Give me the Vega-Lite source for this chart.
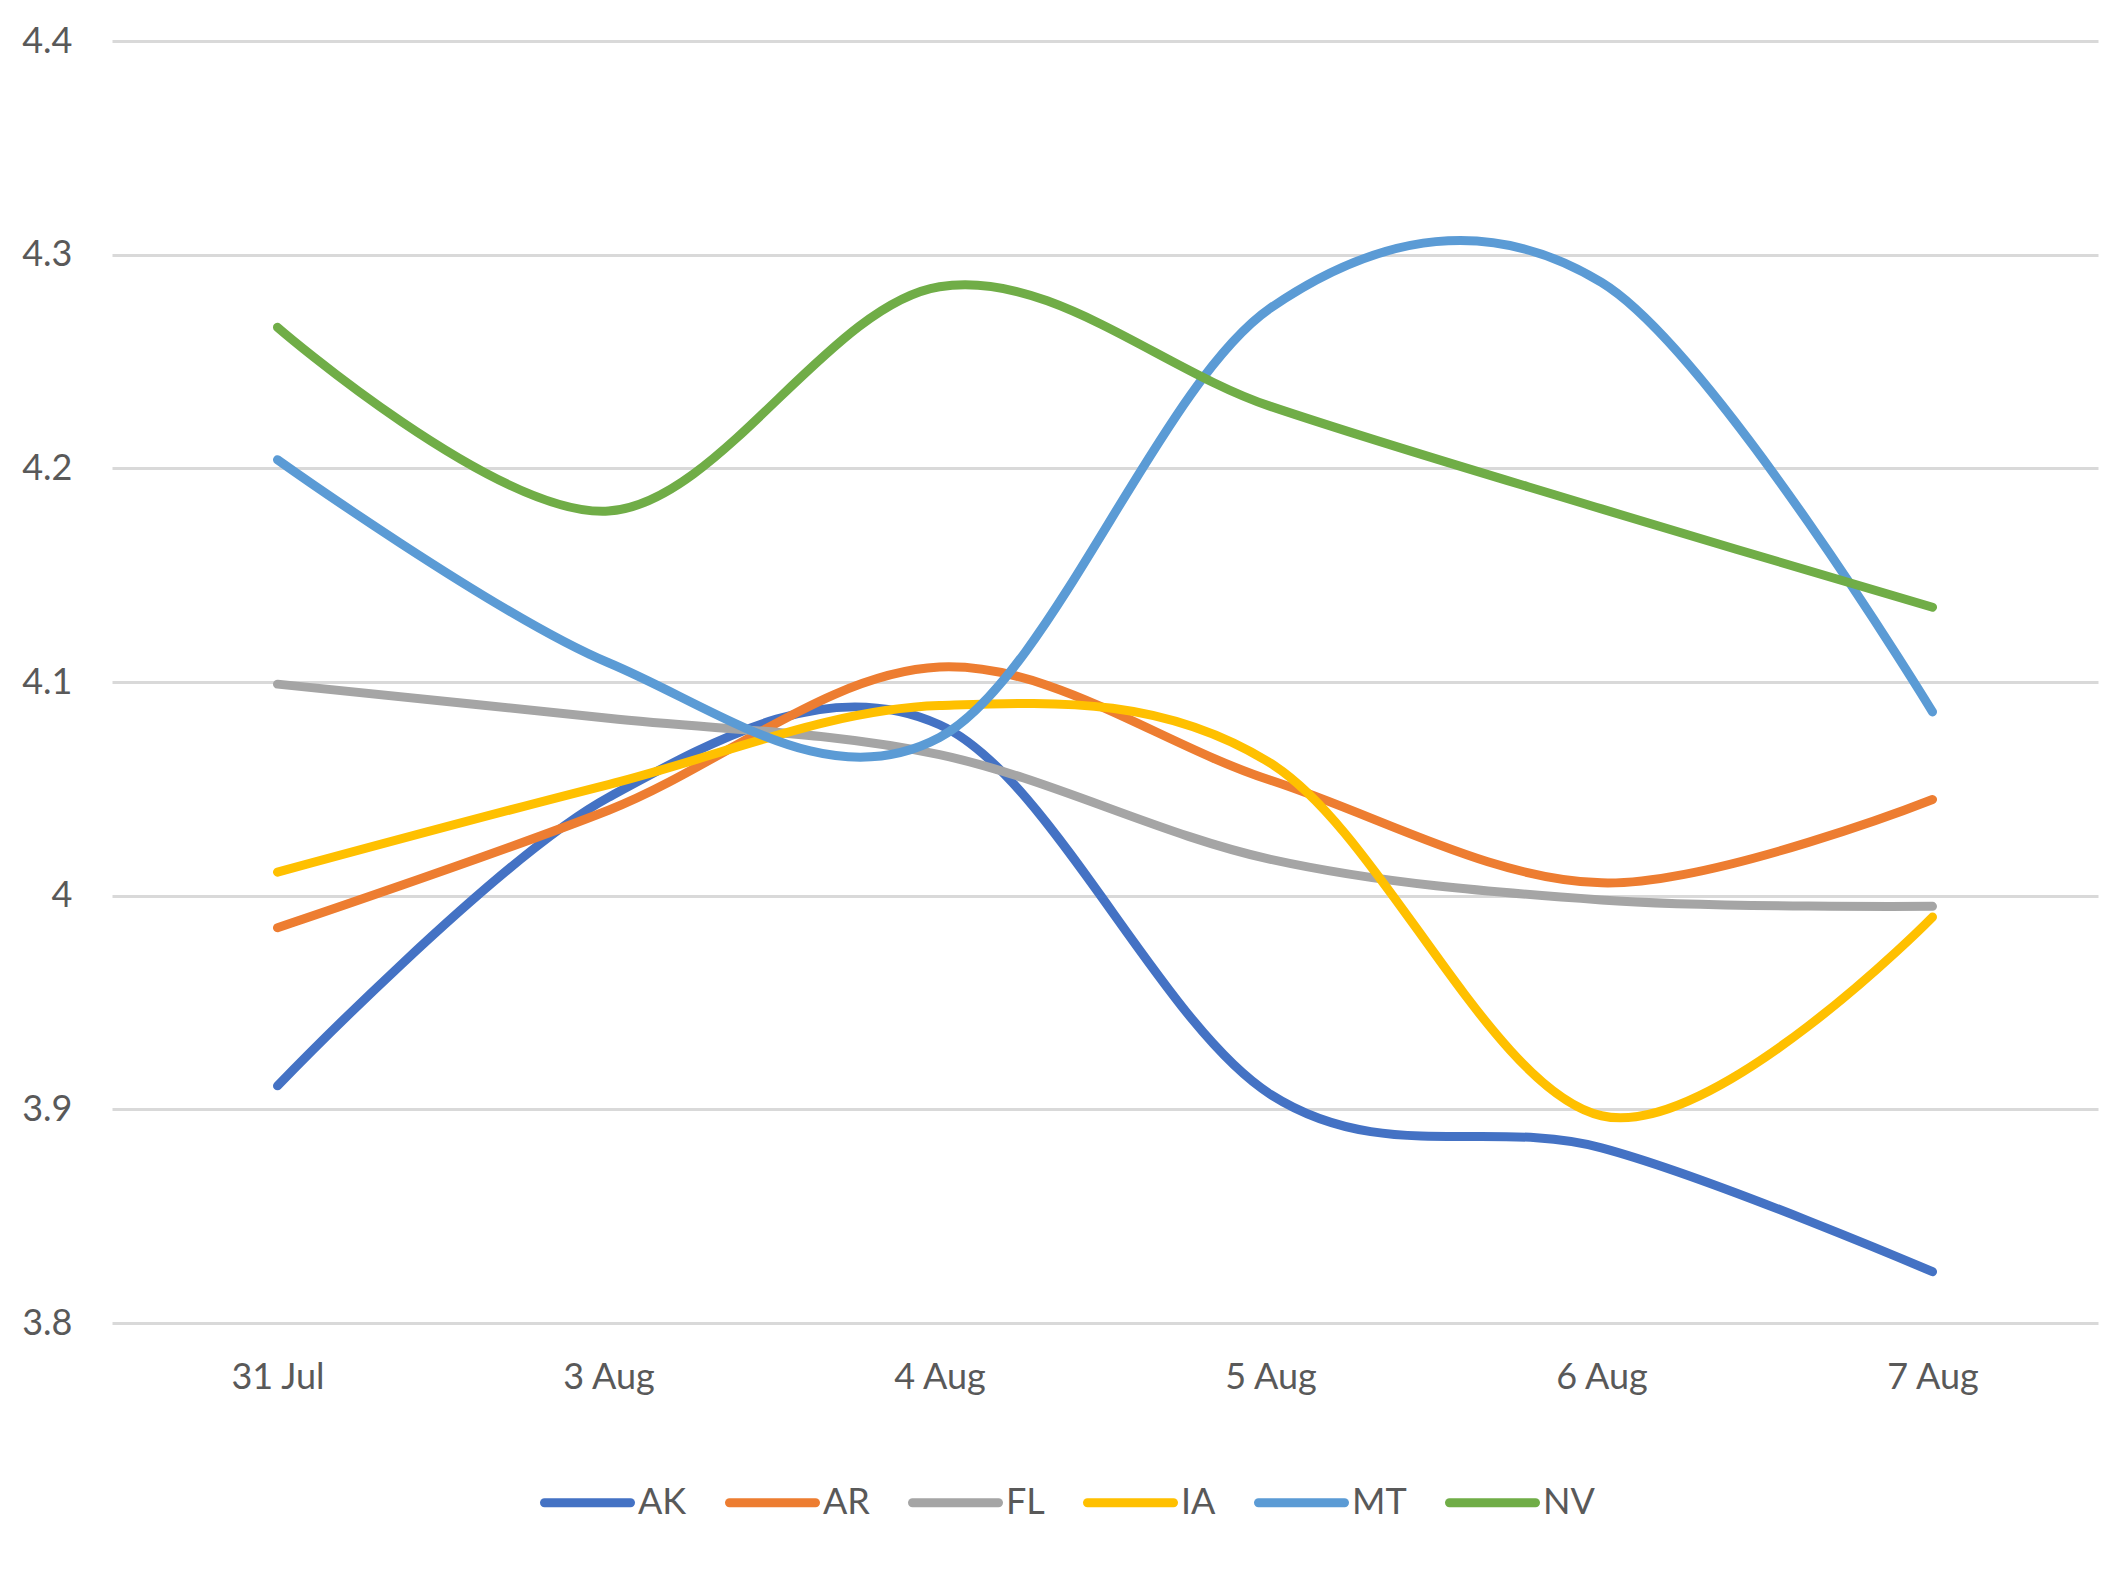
{
  "$schema": "https://vega.github.io/schema/vega-lite/v6.json",
  "width": 1986,
  "height": 1282,
  "autosize": {"type": "none"},
  "padding": {"left": 112, "top": 41, "right": 25, "bottom": 248},
  "background": "white",
  "data": {
    "values": [
      {"day": "31 Jul", "state": "AK", "value": 3.911},
      {"day": "3 Aug", "state": "AK", "value": 4.046},
      {"day": "4 Aug", "state": "AK", "value": 4.080},
      {"day": "5 Aug", "state": "AK", "value": 3.907},
      {"day": "6 Aug", "state": "AK", "value": 3.882},
      {"day": "7 Aug", "state": "AK", "value": 3.824},
      {"day": "31 Jul", "state": "AR", "value": 3.985},
      {"day": "3 Aug", "state": "AR", "value": 4.040},
      {"day": "4 Aug", "state": "AR", "value": 4.107},
      {"day": "5 Aug", "state": "AR", "value": 4.054},
      {"day": "6 Aug", "state": "AR", "value": 4.006},
      {"day": "7 Aug", "state": "AR", "value": 4.045},
      {"day": "31 Jul", "state": "FL", "value": 4.099},
      {"day": "3 Aug", "state": "FL", "value": 4.083},
      {"day": "4 Aug", "state": "FL", "value": 4.066},
      {"day": "5 Aug", "state": "FL", "value": 4.017},
      {"day": "6 Aug", "state": "FL", "value": 3.998},
      {"day": "7 Aug", "state": "FL", "value": 3.995},
      {"day": "31 Jul", "state": "IA", "value": 4.011},
      {"day": "3 Aug", "state": "IA", "value": 4.052},
      {"day": "4 Aug", "state": "IA", "value": 4.089},
      {"day": "5 Aug", "state": "IA", "value": 4.062},
      {"day": "6 Aug", "state": "IA", "value": 3.897},
      {"day": "7 Aug", "state": "IA", "value": 3.990},
      {"day": "31 Jul", "state": "MT", "value": 4.204},
      {"day": "3 Aug", "state": "MT", "value": 4.109},
      {"day": "4 Aug", "state": "MT", "value": 4.074},
      {"day": "5 Aug", "state": "MT", "value": 4.275},
      {"day": "6 Aug", "state": "MT", "value": 4.287},
      {"day": "7 Aug", "state": "MT", "value": 4.086},
      {"day": "31 Jul", "state": "NV", "value": 4.266},
      {"day": "3 Aug", "state": "NV", "value": 4.180},
      {"day": "4 Aug", "state": "NV", "value": 4.285},
      {"day": "5 Aug", "state": "NV", "value": 4.229},
      {"day": "6 Aug", "state": "NV", "value": 4.181},
      {"day": "7 Aug", "state": "NV", "value": 4.135}
    ]
  },
  "mark": {
    "type": "line",
    "interpolate": "cardinal",
    "tension": 0,
    "strokeWidth": 9,
    "strokeCap": "round",
    "strokeJoin": "round"
  },
  "encoding": {
    "x": {
      "field": "day",
      "type": "ordinal",
      "sort": null,
      "scale": {"type": "point", "padding": 0.5},
      "axis": {
        "title": null,
        "domain": false,
        "ticks": false,
        "grid": false,
        "labelAngle": 0,
        "labelPadding": 37,
        "labelFontSize": 36,
        "labelColor": "#595959",
        "labelFont": "Lato"
      }
    },
    "y": {
      "field": "value",
      "type": "quantitative",
      "scale": {"domain": [3.8, 4.4], "nice": false, "zero": false},
      "axis": {
        "title": null,
        "values": [3.8, 3.9, 4, 4.1, 4.2, 4.3, 4.4],
        "format": "~g",
        "domain": false,
        "ticks": false,
        "gridColor": "#d9d9d9",
        "gridWidth": 3,
        "labelPadding": 40,
        "labelFontSize": 36,
        "labelColor": "#595959",
        "labelFont": "Lato"
      }
    },
    "color": {
      "field": "state",
      "type": "nominal",
      "scale": {
        "domain": ["AK", "AR", "FL", "IA", "MT", "NV"],
        "range": ["#4472C4", "#ED7D31", "#A5A5A5", "#FFC000", "#5B9BD5", "#70AD47"]
      },
      "legend": {
        "title": null,
        "orient": "none",
        "direction": "horizontal",
        "legendX": 428,
        "legendY": 1414,
        "symbolType": "stroke",
        "symbolSize": 7396,
        "symbolStrokeWidth": 9,
        "labelFontSize": 36,
        "labelColor": "#595959",
        "labelFont": "Lato",
        "labelOffset": 3,
        "columnPadding": 24,
        "encode": {
          "symbols": {"update": {"strokeCap": {"value": "round"}}}
        }
      }
    }
  },
  "config": {
    "view": {"stroke": null}
  }
}
